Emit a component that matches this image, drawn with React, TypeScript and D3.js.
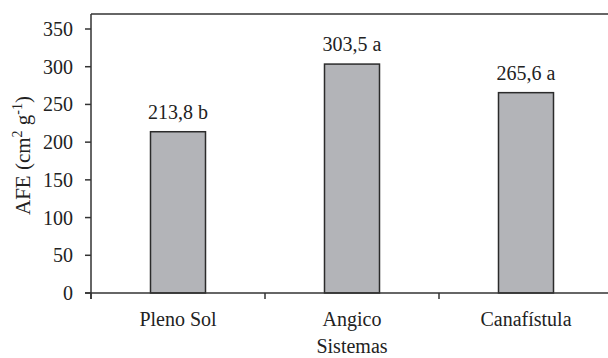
import React from "react";
import * as d3 from "d3";

const categories = ["Pleno Sol", "Angico", "Canafístula"];
const values = [213.8, 303.5, 265.6];
const valueLabels = ["213,8 b", "303,5 a", "265,6 a"];
const yTicks = [0, 50, 100, 150, 200, 250, 300, 350];

const W = 608;
const H = 358;
const left = 91;
const top = 14;
const bottom = 293;
const font = "Liberation Serif";
const axisColor = "#333";
const ts: React.CSSProperties = { fontFamily: font, fontSize: 20, fill: "#222" };

export default function App() {
  const x = d3.scaleBand<string>().domain(categories).range([left, left + 3 * 174]).padding(0);
  const y = d3.scaleLinear().domain([0, 350]).range([bottom, 29]);
  const bw = 55;
  const boundaries = categories.map((c) => x(c) as number);

  return (
    <svg
      width={W}
      height={H}
      style={{ position: "absolute", left: 0, top: 0, background: "#fff", fontFamily: font }}
    >
      {categories.map((c, i) => {
        const cx = (x(c) as number) + x.bandwidth() / 2;
        return (
          <g key={c}>
            <rect
              x={cx - bw / 2}
              y={y(values[i])}
              width={bw}
              height={bottom - y(values[i])}
              fill="#b3b4b8"
              stroke="#2b2b2b"
              strokeWidth={1.5}
            />
            <text x={cx} y={y(values[i]) - 13} style={ts} textAnchor="middle">
              {valueLabels[i]}
            </text>
            <text x={cx} y={326} style={ts} textAnchor="middle">
              {c}
            </text>
          </g>
        );
      })}
      <line x1={left} x2={W} y1={top} y2={top} stroke={axisColor} strokeWidth={1.5} />
      <line x1={left} x2={left} y1={top} y2={bottom + 6} stroke={axisColor} strokeWidth={1.5} />
      <line x1={left - 6} x2={W} y1={bottom} y2={bottom} stroke={axisColor} strokeWidth={1.5} />
      {yTicks.map((t) => (
        <g key={t}>
          <line x1={left - 6} x2={left} y1={y(t)} y2={y(t)} stroke={axisColor} strokeWidth={1.5} />
          <text x={73} y={y(t) + 7} style={ts} textAnchor="end">
            {t}
          </text>
        </g>
      ))}
      {boundaries.map((b, i) => (
        <line key={i} x1={b} x2={b} y1={bottom} y2={bottom + 6} stroke={axisColor} strokeWidth={1.5} />
      ))}
      <text x={(left + left + 3 * 174) / 2} y={353} style={ts} textAnchor="middle">
        Sistemas
      </text>
      <text
        transform={`translate(30, ${(top + bottom) / 2 + 2}) rotate(-90)`}
        style={{ ...ts, fontSize: 21 }}
        textAnchor="middle"
      >
        AFE (cm
        <tspan style={{ fontSize: 14 }} dy={-8}>2</tspan>
        <tspan dy={8}> g</tspan>
        <tspan style={{ fontSize: 14 }} dy={-8}>-1</tspan>
        <tspan dy={8}>)</tspan>
      </text>
    </svg>
  );
}
